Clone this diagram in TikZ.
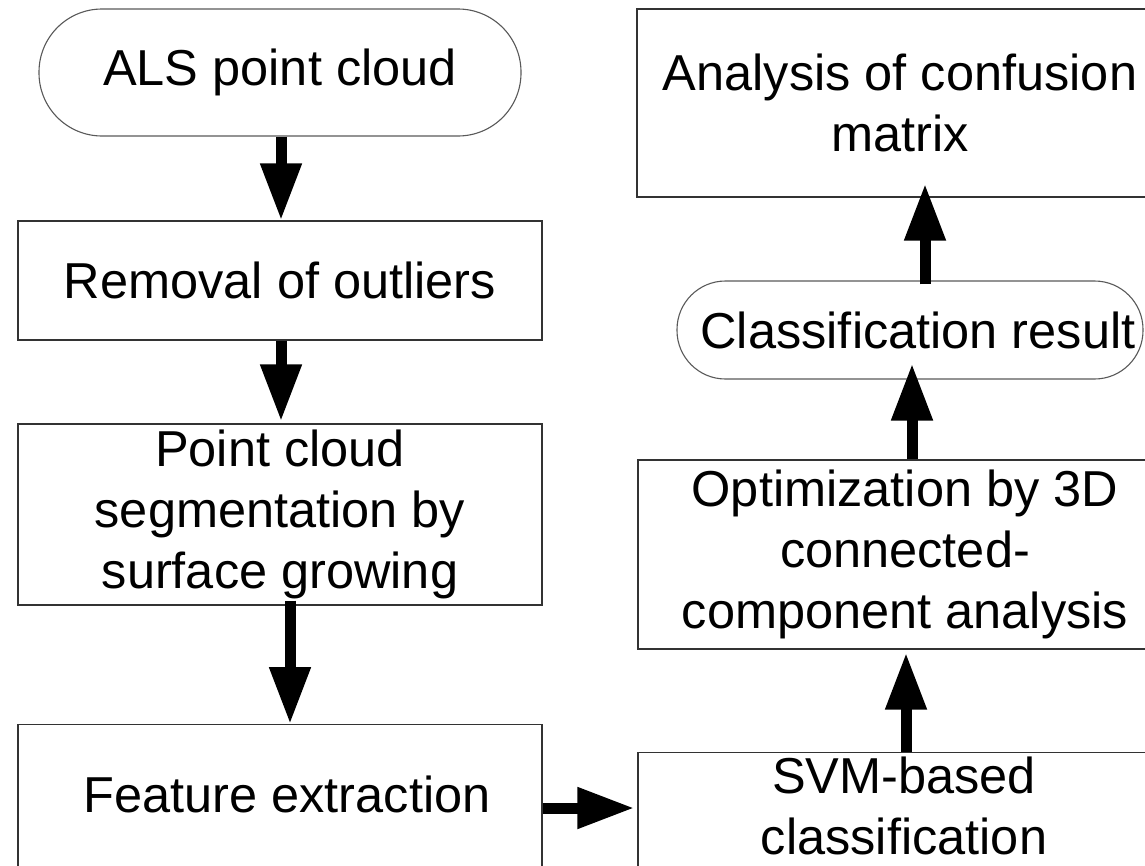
\documentclass[tikz,border=0pt]{standalone}
\usepackage{fontspec}
\setmainfont{Liberation Sans}
\usetikzlibrary{arrows.meta}
\begin{document}
\begin{tikzpicture}[x=1pt,y=-1pt,
  txt/.style={inner sep=0pt, align=center, font=\fontsize{50.5pt}{61pt}\selectfont},
  box/.style={txt, draw=black!80, line width=1.4pt},
  stad/.style={txt, draw=black!65, line width=1.1pt},
  arr/.style={line width=11pt, -{Triangle[length=57pt,width=39pt]}}]
\useasboundingbox (0,0) rectangle (1145,865);
\clip (0,0) rectangle (1145,865);
% left column
\node[stad, minimum width=482pt, minimum height=127pt, rounded corners=63pt] (als) at (280,72.5) {ALS point cloud};
\node[box, minimum width=524pt, minimum height=119pt] (rem) at (280,280.5) {Removal of outliers};
\node[box, minimum width=524pt, minimum height=181pt] (seg) at (280,514.5) {Point cloud\\segmentation by\\surface growing};
\node[box, minimum width=524pt, minimum height=146pt, anchor=north] (fea) at (280,724) {};
\node[txt, anchor=base] (feat) at (287,812) {Feature extraction};
% right column
\node[box, minimum width=526pt, minimum height=188pt] (ana) at (900,103) {Analysis of confusion\\matrix};
\node[stad, minimum width=466pt, minimum height=98pt, rounded corners=48.5pt] (cls) at (910,330) {\hspace*{16pt}Classification result};
\node[box, minimum width=534pt, minimum height=189pt] (opt) at (905,554.5) {Optimization by 3D\\connected-\\component analysis};
\node[box, minimum width=534pt, minimum height=130pt, anchor=north] (svm) at (905,752) {};
\node[txt, anchor=north] (svmt) at (904,757) {SVM-based\\classification};
% connectors
\coordinate (h4) at (0,808);
\draw[arr] ([xshift=1pt]als.south) -- ([xshift=1pt]rem.north);
\draw[arr] ([xshift=1pt]rem.south) -- ([xshift=1pt,yshift=2pt]seg.north);
\draw[arr] ([xshift=10pt,yshift=5pt]seg.south) -- ([xshift=10pt]fea.north);
\draw[arr, shorten >=3pt] (fea.east |- h4) -- (svm.west |- h4);
\draw[arr] ([xshift=1pt]svm.north) -- ([xshift=1pt,yshift=-3pt]opt.south);
\draw[arr] ([xshift=7pt]opt.north) -- ([xshift=2pt,yshift=16pt]cls.south);
\draw[arr] ([xshift=15pt,yshift=-4pt]cls.north) -- ([xshift=25pt,yshift=14pt]ana.south);
\end{tikzpicture}
\end{document}
